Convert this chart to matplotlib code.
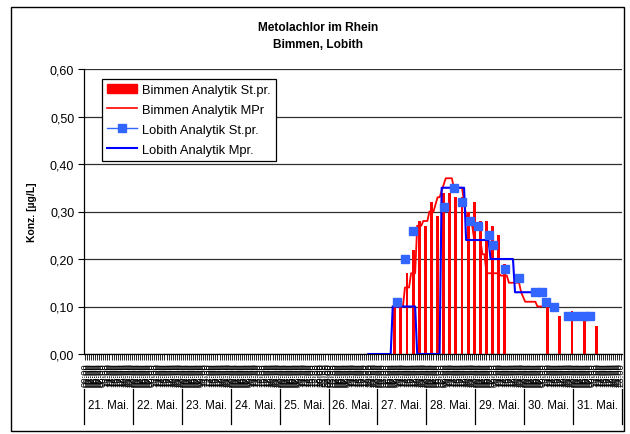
import matplotlib
matplotlib.use("Agg")
import matplotlib.pyplot as plt
from matplotlib.patches import Patch, Rectangle
from matplotlib.lines import Line2D
import matplotlib.transforms as mtransforms

plt.rcParams['font.family'] = ['Liberation Sans', 'DejaVu Sans']

# ---------------- data ----------------
title_lines = ["Metolachlor im Rhein", "Bimmen, Lobith"]
y_label = "Konz. [µg/L]"
days = ["21. Mai.", "22. Mai.", "23. Mai.", "24. Mai.", "25. Mai.", "26. Mai.",
        "27. Mai.", "28. Mai.", "29. Mai.", "30. Mai.", "31. Mai."]
hours_per_day = 24
y_ticks = [0.0, 0.1, 0.2, 0.3, 0.4, 0.5, 0.6]

# x values are hour indices counted from 21 Mai 00:00
bim_st_hour = [152, 155, 158, 161, 164, 167, 170, 173, 176, 179, 182, 185, 188,
               191, 194, 197, 200, 203, 206, 227, 233, 239, 245, 251]
bim_st_val = [0.10, 0.10, 0.17, 0.22, 0.28, 0.27, 0.32, 0.29, 0.34, 0.34, 0.33,
              0.33, 0.30, 0.32, 0.28, 0.28, 0.27, 0.25, 0.19, 0.10, 0.08, 0.09,
              0.085, 0.06]

bim_mp_hour = [151, 156, 157, 159, 160, 162, 163, 165, 166, 168, 169, 171, 173,
               174, 177, 180, 181, 185, 187, 190, 191, 194, 195, 196, 197, 203,
               204, 207, 208, 213, 214, 216, 221, 222, 224]
bim_mp_val = [0.10, 0.10, 0.14, 0.14, 0.17, 0.17, 0.27, 0.27, 0.28, 0.28, 0.30,
              0.30, 0.33, 0.33, 0.37, 0.37, 0.35, 0.35, 0.29, 0.27, 0.24, 0.24,
              0.21, 0.21, 0.17, 0.17, 0.165, 0.165, 0.15, 0.15, 0.13, 0.11,
              0.11, 0.10, 0.10]

lob_st_hour = [153, 157, 161, 176, 181, 185, 189, 193, 198, 200, 206, 213, 221,
               224, 226, 230, 237, 241, 245, 248]
lob_st_val = [0.11, 0.20, 0.26, 0.31, 0.35, 0.32, 0.28, 0.27, 0.25, 0.23, 0.18,
              0.16, 0.13, 0.13, 0.11, 0.10, 0.08, 0.08, 0.08, 0.08]

lob_mp_start = [139, 151, 163, 175, 187, 199, 211]
lob_mp_end = [150, 162, 174, 186, 198, 210, 220]
lob_mp_val = [0.00, 0.10, 0.00, 0.35, 0.24, 0.20, 0.13]

labels = ["Bimmen Analytik St.pr.", "Bimmen Analytik MPr",
          "Lobith Analytik St.pr.", "Lobith Analytik Mpr."]

# ---------------- figure ----------------
W, H = 630, 435
fig = plt.figure(figsize=(W / 100, H / 100), dpi=100)
fig.patches.append(Rectangle((11 / W, 1 - 432 / H), (624 - 11) / W, (432 - 8) / H,
                             transform=fig.transFigure, fill=False,
                             edgecolor='black', linewidth=1.0))

ax = fig.add_axes([84 / W, 1 - 355 / H, (622 - 84) / W, (355 - 70) / H])

n_hours = len(days) * hours_per_day
red = '#FF0000'
blue = '#0000FF'
sq = '#3366FF'

ax.bar(bim_st_hour, bim_st_val, width=1.4, color=red, zorder=2)
ax.plot(bim_mp_hour, bim_mp_val, color=red, lw=1.3, zorder=3)
lx, ly = [], []
for s, e, v in zip(lob_mp_start, lob_mp_end, lob_mp_val):
    lx += [s, e]
    ly += [v, v]
ax.plot(lx, ly, color=blue, lw=1.5, zorder=4)
ax.plot(lob_st_hour, lob_st_val, ls='none', marker='s', ms=5.5,
        color=sq, mec=sq, zorder=5)

ax.set_xlim(-0.5, n_hours - 0.5)
ax.set_ylim(0, 0.6)
ax.set_yticks(y_ticks)
ax.set_yticklabels([f"{v:.2f}".replace('.', ',') for v in y_ticks], fontsize=9)
ax.tick_params(axis='y', length=4, width=0.8, pad=3)
ax.yaxis.grid(True, color='#303030', lw=0.9)
ax.set_axisbelow(True)

ax.set_xticks(range(n_hours))
ax.set_xticklabels([f"{h % 24:02d}:00" for h in range(n_hours)], rotation=90,
                   fontsize=6.8)
ax.tick_params(axis='x', length=4, width=0.6, pad=2)

for s in ['top', 'right']:
    ax.spines[s].set_visible(False)
ax.spines['left'].set_linewidth(0.9)
ax.spines['bottom'].set_linewidth(0.9)

ax.set_ylabel(y_label, fontsize=7.5, fontweight='bold')
ax.yaxis.set_label_coords(-0.088, 0.5)

# day group labels
trans = mtransforms.blended_transform_factory(ax.transData, ax.transAxes)
for k, d in enumerate(days):
    ax.text(k * hours_per_day + hours_per_day / 2 - 0.5, -0.18, d,
            transform=trans, ha='center', va='center', fontsize=8.3)
for k in range(len(days) + 1):
    xk = k * hours_per_day - 0.5
    ax.plot([xk, xk], [-0.123, -0.245], transform=trans, color='black',
            lw=0.9, clip_on=False)

fig.text(318 / W, 1 - 28 / H, title_lines[0], ha='center', va='center',
         fontsize=8.6, fontweight='bold')
fig.text(318 / W, 1 - 45 / H, title_lines[1], ha='center', va='center',
         fontsize=8.6, fontweight='bold')

handles = [Patch(facecolor=red, edgecolor=red),
           Line2D([], [], color=red, lw=1.2),
           Line2D([], [], color=sq, lw=1.0, marker='s', ms=5.5, mec=sq),
           Line2D([], [], color=blue, lw=1.5)]
leg = ax.legend(handles, labels, loc='upper left', bbox_to_anchor=(0.033, 0.965),
                fontsize=9.3, frameon=True, fancybox=False, borderpad=0.4,
                labelspacing=0.6, handlelength=2.3, handletextpad=0.4,
                borderaxespad=0)
leg.get_frame().set_edgecolor('black')
leg.get_frame().set_linewidth(0.9)
leg.get_frame().set_alpha(1)

fig.savefig("out.png", dpi=100)
